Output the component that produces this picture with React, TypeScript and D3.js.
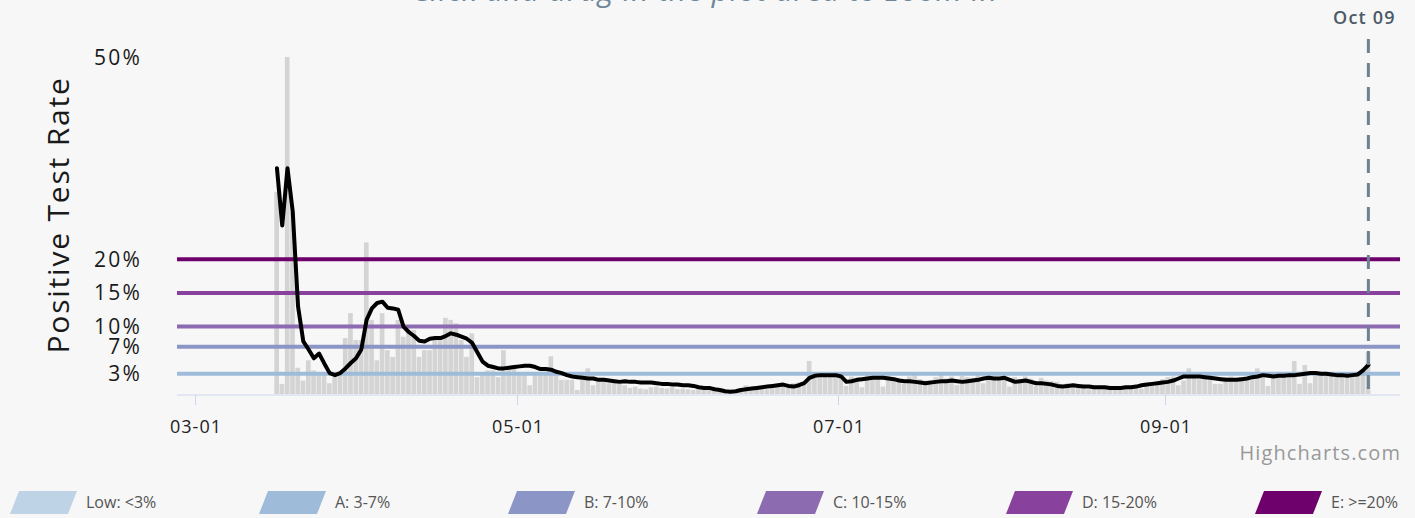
import React from "react";
import * as d3 from "d3";

// daily positive test rate (%), bars
const rateMar = [30, 1.5, 50, 27, 3.9, 2, 5, 3.5, 3, 3, 1.6, 2.5, 3, 8.3, 12, 8]; // from 03-16
const rateApr = [8, 22.5, 11, 5, 12, 6.5, 5.5, 11, 8.5, 9.5, 9.5, 5.5, 6.5, 6.5, 8.3, 8.3, 11.3, 11, 10.5, 8, 5.5, 9, 2.5, 3, 3.5, 3.5, 2.5, 6.5, 4, 4];
const rateMay = [3.2, 3.2, 1.3, 2.8, 2.8, 3.3, 5.6, 3.5, 2.1, 2.1, 2.1, 0.6, 2.1, 3.8, 1.3, 1.8, 2.0, 1.6, 1.9, 1.5, 1.3, 0.9, 1.1, 0.8, 0.7, 1.0, 1.1, 0.9, 0.8, 1.0, 0.7];
const rateJun = [0.8, 0.7, 0.6, 0.9, 0.7, 0.6, 0.8, 0.5, 0.6, 0.4, 0.5, 0.6, 1.3, 0.8, 0.9, 1.0, 0.7, 0.9, 1.1, 1.5, 1.4, 1.6, 1.7, 1.7, 4.9, 3.2, 2.6, 3.0, 2.7, 2.8];
const rateJul = [2.9, 1.2, 2.6, 2.4, 1.0, 2.8, 2.5, 2.2, 1.1, 2.7, 2.4, 2.3, 1.5, 2.6, 2.8, 2.2, 2.0, 1.4, 2.5, 2.9, 2.3, 2.6, 1.3, 2.7, 2.5, 2.4, 3.1, 1.6, 2.8, 2.6, 2.3];
const rateAug = [2.4, 1.1, 2.5, 2.2, 2.6, 2.3, 1.2, 2.4, 2.0, 1.9, 1.8, 1.0, 1.6, 1.5, 1.3, 1.4, 0.7, 1.1, 1.0, 0.9, 1.2, 0.6, 1.0, 0.9, 1.1, 1.3, 0.8, 1.4, 1.6, 1.8, 2.2];
const rateSep = [2.5, 2.6, 1.3, 2.0, 3.8, 3.2, 2.2, 2.4, 2.3, 1.5, 1.5, 2.5, 2.6, 2.4, 2.5, 2.2, 2.3, 3.8, 2.5, 1.2, 2.9, 3.0, 2.9, 3.0, 4.9, 1.5, 4.3, 1.6, 3.0, 3.0];
const rateOct = [3.0, 3.1, 2.8, 3.0, 2.9, 3.0, 3.1, 3.0, 6.2];

// 7-day average (%), black line
const avgMar = [33.5, 25, 33.5, 27, 13, 7.8, 6.6, 5.3, 6, 4.5, 3.1, 2.8, 3.1, 3.8, 4.6, 5.3];
const avgApr = [6.6, 11, 12.7, 13.5, 13.7, 12.8, 12.7, 12.5, 10, 9.2, 8.6, 7.9, 7.8, 8.2, 8.3, 8.3, 8.6, 9, 8.8, 8.5, 8.2, 7.6, 6.2, 4.8, 4.2, 4, 3.8, 3.8, 3.9, 4];
const avgMay = [4.1, 4.2, 4.2, 4.0, 3.7, 3.7, 3.6, 3.3, 3.1, 2.8, 2.6, 2.5, 2.4, 2.3, 2.3, 2.1, 2.1, 2.0, 1.9, 1.8, 1.9, 1.8, 1.8, 1.7, 1.7, 1.7, 1.6, 1.5, 1.5, 1.4, 1.4];
const avgJun = [1.3, 1.3, 1.2, 1.0, 0.9, 0.9, 0.7, 0.6, 0.4, 0.35, 0.4, 0.6, 0.7, 0.8, 0.9, 1.0, 1.1, 1.2, 1.3, 1.4, 1.2, 1.1, 1.3, 1.6, 2.4, 2.7, 2.8, 2.8, 2.8, 2.8];
const avgJul = [2.6, 1.8, 1.9, 2.1, 2.2, 2.3, 2.4, 2.4, 2.4, 2.3, 2.2, 2.0, 1.9, 1.9, 1.8, 1.7, 1.6, 1.7, 1.8, 1.9, 1.9, 2.0, 1.9, 1.8, 1.9, 2.0, 2.1, 2.3, 2.4, 2.3, 2.3];
const avgAug = [2.4, 2.1, 1.8, 1.9, 2.0, 1.8, 1.6, 1.6, 1.5, 1.4, 1.2, 1.1, 1.2, 1.3, 1.2, 1.1, 1.1, 1.0, 1.0, 1.0, 0.9, 0.9, 0.9, 1.0, 1.0, 1.1, 1.3, 1.4, 1.5, 1.6, 1.7];
const avgSep = [1.8, 2.0, 2.3, 2.6, 2.6, 2.6, 2.6, 2.5, 2.4, 2.3, 2.2, 2.1, 2.1, 2.1, 2.2, 2.3, 2.5, 2.6, 2.8, 2.7, 2.6, 2.7, 2.7, 2.8, 2.8, 2.9, 3.0, 3.1, 3.1, 3.0];
const avgOct = [3.0, 2.9, 2.8, 2.8, 2.7, 2.8, 2.9, 3.5, 4.3];

const firstDay = "2020-03-16";
const lastDay = "2020-10-09";
const xTicks = ["2020-03-01", "2020-05-01", "2020-07-01", "2020-09-01"];
const yTicks = [3, 7, 10, 15, 20, 50];
const bandLimits = [3, 7, 10, 15, 20];
const bandColors = ["#9ebcda", "#8c96c6", "#8c6bb1", "#88419d", "#6e016b"];
const legendLabels = ["Low: <3%", "A: 3-7%", "B: 7-10%", "C: 10-15%", "D: 15-20%", "E: >=20%"];
const legendColors = ["#bfd3e6", "#9ebcda", "#8c96c6", "#8c6bb1", "#88419d", "#6e016b"];

const DAY = 86400000;
const FONT = "'Open Sans', 'Noto Sans', sans-serif";

export default function App() {
  const W = 1415;
  const H = 518;
  const left = 177;
  const right = 1400;
  const top = 57;
  const bottom = 394;

  const rates = [...rateMar, ...rateApr, ...rateMay, ...rateJun, ...rateJul, ...rateAug, ...rateSep, ...rateOct];
  const avgs = [...avgMar, ...avgApr, ...avgMay, ...avgJun, ...avgJul, ...avgAug, ...avgSep, ...avgOct];
  const t0 = Date.parse(firstDay + "T12:00:00Z");
  const data = rates.map((r, i) => ({ date: new Date(t0 + i * DAY), rate: r, avg: avgs[i] }));

  const x = d3
    .scaleUtc()
    .domain([Date.UTC(2020, 1, 26, 13), Date.UTC(2020, 9, 15, 12)])
    .range([left, right]);
  const y = d3.scaleLinear().domain([0, 50]).range([bottom, top]);

  const bw = x(new Date(t0 + DAY)) - x(new Date(t0));
  const fmt = d3.utcFormat("%m-%d");
  const markDate = new Date(Date.parse(lastDay + "T12:00:00Z"));
  const markX = x(markDate);

  const line = d3
    .line<{ date: Date; avg: number }>()
    .x((d) => x(d.date))
    .y((d) => y(d.avg));

  const legendX = d3.scalePoint<string>().domain(legendLabels).range([10, 1255]);

  return (
    <div style={{ position: "fixed", left: 0, top: 0, width: W, height: H, background: "#f7f7f7" }}>
      <svg width={W} height={H} style={{ display: "block", fontFamily: FONT }}>
        <rect width={W} height={H} fill="#f7f7f7" />
        {/* subtitle, cut at top */}
        <text x={705} y={1} textAnchor="middle" fontSize={30} fontStyle="italic" letterSpacing={0.9} fill="#6d8799">
          Click and drag in the plot area to zoom in
        </text>

        {/* bars */}
        <g fill="#d4d4d4">
          {data.map((d, i) => (
            <rect key={i} x={x(d.date) - bw / 2} width={bw - 0.6} y={y(d.rate)} height={bottom - y(d.rate)} />
          ))}
        </g>

        {/* x axis */}
        <line x1={left} x2={right} y1={bottom + 1} y2={bottom + 1} stroke="#ccd6eb" />
        {xTicks.map((t) => {
          const d = new Date(t + "T00:00:00Z");
          const px = Math.round(x(d)) + 0.5;
          return (
            <g key={t}>
              <line x1={px} x2={px} y1={bottom + 1} y2={bottom + 11} stroke="#ccd6eb" />
              <text x={px + 0.5} y={433} textAnchor="middle" fontSize={18} fontWeight={500} letterSpacing={1} fill="#222">
                {fmt(d)}
              </text>
            </g>
          );
        })}

        {/* y tick labels */}
        {yTicks.map((v) => (
          <text key={v} x={142} y={y(v)} dy="0.36em" textAnchor="end" fontSize={21} fontWeight={500} letterSpacing={2.2} fill="#1a1a1a">
            {v}%
          </text>
        ))}
        <text
          transform={`translate(${58},${215}) rotate(-90)`}
          textAnchor="middle"
          dy="0.36em"
          fontSize={30}
          letterSpacing={1.8}
          fill="#1a1a1a"
        >
          Positive Test Rate
        </text>

        {/* threshold lines */}
        {bandLimits.map((v, i) => (
          <line key={v} x1={left} x2={right} y1={y(v)} y2={y(v)} stroke={bandColors[i]} strokeWidth={4} />
        ))}

        {/* 7-day average */}
        <path d={line(data) || ""} fill="none" stroke="#000" strokeWidth={4} strokeLinejoin="round" strokeLinecap="round" />

        {/* latest date marker */}
        <line x1={markX} x2={markX} y1={39} y2={bottom} stroke="#6b8391" strokeWidth={3} strokeDasharray="14 10" />
        <text x={markX - 4} y={24} textAnchor="middle" fontSize={18} fontWeight={600} letterSpacing={1.2} fill="#4b5a66">
          {d3.utcFormat("%b %d")(markDate)}
        </text>

        {/* credits */}
        <text x={right + 1} y={460} textAnchor="end" fontSize={20} letterSpacing={1.1} fill="#999">
          Highcharts.com
        </text>

        {/* legend */}
        {legendLabels.map((l, i) => {
          const lx = legendX(l) || 0;
          return (
            <g key={l} transform={`translate(${lx},${491})`}>
              <path d="M9,0 L67,0 L58,23 L0,23 Z" fill={legendColors[i]} />
              <text x={76} y={11.5} dy="0.36em" fontSize={16} fill="#555">
                {l}
              </text>
            </g>
          );
        })}
      </svg>
    </div>
  );
}
